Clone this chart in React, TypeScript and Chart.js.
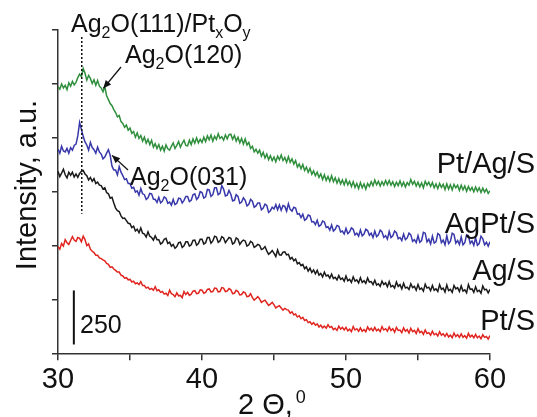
import React, { useEffect, useRef } from 'react';
import { Chart, registerables } from 'chart.js';
Chart.register(...registerables);

// 2Θ grid (degrees)
const twoTheta = [
  30, 30.125, 30.25, 30.375, 30.5, 30.625, 30.75, 30.875,
  31, 31.125, 31.25, 31.375, 31.5, 31.625, 31.75, 31.875,
  32, 32.125, 32.25, 32.375, 32.5, 32.625, 32.75, 32.875,
  33, 33.125, 33.25, 33.375, 33.5, 33.625, 33.75, 33.875,
  34, 34.125, 34.25, 34.375, 34.5, 34.625, 34.75, 34.875,
  35, 35.125, 35.25, 35.375, 35.5, 35.625, 35.75, 35.875,
  36, 36.125, 36.25, 36.375, 36.5, 36.625, 36.75, 36.875,
  37, 37.125, 37.25, 37.375, 37.5, 37.625, 37.75, 37.875,
  38, 38.125, 38.25, 38.375, 38.5, 38.625, 38.75, 38.875,
  39, 39.125, 39.25, 39.375, 39.5, 39.625, 39.75, 39.875,
  40, 40.125, 40.25, 40.375, 40.5, 40.625, 40.75, 40.875,
  41, 41.125, 41.25, 41.375, 41.5, 41.625, 41.75, 41.875,
  42, 42.125, 42.25, 42.375, 42.5, 42.625, 42.75, 42.875,
  43, 43.125, 43.25, 43.375, 43.5, 43.625, 43.75, 43.875,
  44, 44.125, 44.25, 44.375, 44.5, 44.625, 44.75, 44.875,
  45, 45.125, 45.25, 45.375, 45.5, 45.625, 45.75, 45.875,
  46, 46.125, 46.25, 46.375, 46.5, 46.625, 46.75, 46.875,
  47, 47.125, 47.25, 47.375, 47.5, 47.625, 47.75, 47.875,
  48, 48.125, 48.25, 48.375, 48.5, 48.625, 48.75, 48.875,
  49, 49.125, 49.25, 49.375, 49.5, 49.625, 49.75, 49.875,
  50, 50.125, 50.25, 50.375, 50.5, 50.625, 50.75, 50.875,
  51, 51.125, 51.25, 51.375, 51.5, 51.625, 51.75, 51.875,
  52, 52.125, 52.25, 52.375, 52.5, 52.625, 52.75, 52.875,
  53, 53.125, 53.25, 53.375, 53.5, 53.625, 53.75, 53.875,
  54, 54.125, 54.25, 54.375, 54.5, 54.625, 54.75, 54.875,
  55, 55.125, 55.25, 55.375, 55.5, 55.625, 55.75, 55.875,
  56, 56.125, 56.25, 56.375, 56.5, 56.625, 56.75, 56.875,
  57, 57.125, 57.25, 57.375, 57.5, 57.625, 57.75, 57.875,
  58, 58.125, 58.25, 58.375, 58.5, 58.625, 58.75, 58.875,
  59, 59.125, 59.25, 59.375, 59.5, 59.625, 59.75, 59.875,
  60,
];

// Pt/Ag/S (green, offset trace)
const ptAgS = [
  1238, 1226, 1250, 1232, 1244, 1224, 1256, 1240,
  1262, 1246, 1258, 1280, 1296, 1284, 1322, 1300,
  1268, 1290, 1276, 1252, 1270, 1244, 1266, 1240,
  1232, 1214, 1238, 1196, 1178, 1160, 1150, 1132,
  1118, 1098, 1104, 1076, 1068, 1050, 1060, 1036,
  1046, 1022, 1030, 1004, 1024, 998, 1012, 986,
  1004, 976, 994, 970, 990, 958, 974, 952,
  970, 944, 962, 940, 968, 950, 944, 962,
  978, 952, 966, 984, 958, 976, 990, 966,
  964, 990, 970, 996, 976, 1000, 978, 994,
  980, 1004, 984, 1010, 992, 1014, 986, 1008,
  994, 1020, 998, 1006, 990, 1014, 996, 1016,
  1018, 994, 1012, 986, 1004, 978, 998, 972,
  996, 968, 980, 952, 962, 936, 948, 930,
  944, 916, 934, 908, 926, 900, 918, 896,
  912, 890, 916, 900, 922, 896, 910, 888,
  914, 888, 904, 880, 896, 866, 880, 858,
  878, 850, 866, 842, 860, 832, 848, 826,
  842, 818, 834, 808, 830, 804, 822, 800,
  826, 798, 816, 792, 812, 788, 806, 784,
  808, 784, 800, 776, 798, 772, 790, 766,
  794, 770, 788, 764, 790, 776, 798, 780,
  806, 784, 800, 778, 798, 782, 804, 784,
  804, 782, 798, 776, 796, 780, 802, 778,
  796, 774, 794, 782, 808, 786, 800, 778,
  796, 774, 792, 770, 800, 782, 796, 776,
  794, 770, 788, 766, 790, 772, 786, 762,
  788, 764, 784, 760, 786, 770, 782, 758,
  782, 760, 778, 754, 776, 758, 772, 752,
  774, 754, 770, 748, 768, 750, 764, 744,
  756,
];

// AgPt/S (blue)
const agPtS = [
  948, 930, 962, 940, 936, 952, 930, 956,
  944, 966, 972, 1010, 1072, 1040, 1008, 982,
  968, 944, 980, 956, 946, 930, 958, 936,
  926, 904, 912, 930, 946, 920, 870, 852,
  852, 830, 868, 842, 826, 808, 812, 790,
  790, 768, 772, 750, 756, 736, 766, 742,
  738, 716, 724, 744, 742, 718, 716, 702,
  726, 700, 708, 728, 722, 698, 704, 690,
  716, 692, 698, 722, 720, 700, 712, 730,
  730, 706, 712, 738, 742, 716, 726, 752,
  748, 722, 728, 762, 760, 730, 738, 770,
  770, 738, 744, 780, 764, 732, 736, 758,
  740, 710, 712, 738, 730, 698, 704, 724,
  712, 686, 694, 716, 708, 680, 686, 700,
  700, 668, 676, 694, 688, 656, 664, 680,
  672, 692, 668, 690, 666, 688, 684, 662,
  696, 670, 662, 680, 676, 648, 650, 632,
  648, 620, 626, 644, 640, 612, 614, 600,
  620, 592, 598, 616, 612, 586, 590, 574,
  598, 570, 578, 596, 592, 566, 570, 556,
  582, 558, 566, 584, 578, 552, 560, 546,
  574, 548, 556, 578, 572, 550, 560, 540,
  570, 544, 552, 574, 566, 540, 548, 532,
  568, 540, 548, 570, 562, 534, 540, 526,
  556, 530, 538, 560, 552, 522, 530, 516,
  548, 518, 526, 564, 560, 520, 532, 510,
  546, 514, 520, 558, 552, 516, 528, 506,
  548, 512, 522, 560, 554, 514, 526, 508,
  542, 506, 516, 552, 548, 512, 524, 504,
  538, 504, 512, 546, 534, 506, 518, 500,
  520,
];

// Ag/S (black)
const agS = [
  846, 822, 838, 856, 830, 816, 842, 828,
  842, 820, 834, 818, 836, 846, 850, 834,
  826, 806, 818, 800, 812, 790, 796, 782,
  780, 764, 770, 748, 742, 722, 726, 700,
  676, 664, 660, 640, 628, 630, 618, 606,
  604, 586, 592, 570, 578, 562, 584, 560,
  556, 542, 566, 546, 540, 528, 548, 530,
  530, 510, 516, 532, 536, 512, 518, 500,
  508, 490, 498, 516, 518, 494, 502, 520,
  520, 500, 506, 526, 528, 504, 512, 532,
  532, 510, 516, 540, 540, 514, 524, 546,
  542, 518, 524, 544, 538, 516, 528, 540,
  536, 510, 516, 538, 532, 508, 520, 528,
  524, 500, 506, 522, 516, 494, 500, 508,
  504, 484, 488, 498, 478, 462, 470, 480,
  466, 452, 482, 460, 458, 472, 474, 460,
  462, 440, 448, 432, 440, 418, 424, 410,
  416, 396, 404, 384, 398, 378, 390, 372,
  388, 366, 374, 358, 380, 362, 366, 352,
  370, 350, 356, 344, 364, 346, 352, 338,
  362, 340, 346, 332, 358, 338, 344, 330,
  354, 332, 340, 328, 352, 334, 336, 322,
  342, 320, 326, 314, 338, 322, 330, 312,
  336, 312, 318, 306, 334, 314, 322, 302,
  328, 306, 310, 300, 326, 308, 314, 296,
  322, 300, 306, 292, 324, 306, 310, 294,
  318, 296, 302, 290, 322, 300, 306, 288,
  320, 294, 300, 286, 318, 302, 308, 290,
  316, 292, 298, 284, 322, 300, 302, 286,
  312, 290, 296, 282, 316, 298, 300, 284,
  300,
];

// Pt/S (red)
const ptS = [
  498, 486, 512, 500, 530, 516, 508, 526,
  544, 528, 522, 540, 536, 520, 546, 530,
  502, 510, 486, 476, 470, 458, 458, 446,
  442, 436, 432, 420, 416, 402, 404, 394,
  388, 380, 380, 366, 362, 352, 354, 344,
  346, 334, 338, 326, 330, 322, 336, 318,
  318, 306, 310, 300, 304, 296, 312, 294,
  298, 286, 290, 278, 282, 272, 296, 280,
  276, 266, 284, 270, 272, 262, 290, 276,
  286, 272, 278, 292, 294, 280, 282, 298,
  296, 282, 286, 300, 302, 288, 290, 306,
  304, 288, 290, 308, 306, 290, 292, 304,
  298, 280, 282, 296, 290, 274, 276, 288,
  284, 266, 268, 280, 262, 250, 258, 266,
  256, 240, 246, 250, 238, 226, 232, 240,
  228, 214, 220, 224, 214, 204, 212, 206,
  204, 190, 196, 182, 186, 172, 178, 164,
  170, 156, 160, 146, 150, 138, 146, 134,
  140, 126, 134, 122, 130, 120, 136, 124,
  128, 114, 120, 110, 130, 116, 124, 112,
  124, 108, 116, 104, 128, 112, 118, 106,
  122, 106, 114, 104, 126, 112, 120, 108,
  124, 108, 116, 104, 128, 112, 118, 106,
  126, 110, 118, 102, 124, 110, 112, 100,
  122, 106, 114, 98, 120, 104, 110, 96,
  118, 100, 106, 92, 112, 96, 100, 88,
  106, 90, 96, 84, 104, 88, 94, 82,
  96, 80, 88, 76, 98, 82, 90, 78,
  94, 78, 86, 74, 96, 80, 88, 76,
  92, 76, 84, 72, 90, 78, 82, 70,
  86,
];

const seriesNames = ['Pt/Ag/S', 'AgPt/S', 'Ag/S', 'Pt/S'];
const seriesColors = ['#2f8f3c', '#3838aa', '#1a1a1a', '#e0241f'];
const xTicks = [30, 35, 40, 45, 50, 55, 60];
const yTickStep = 250;
const scaleBarValue = 250;
const peakLine = 31.65;

const FONT = '"Liberation Sans", Arial, Helvetica, sans-serif';

type Part = { t: string; sub?: boolean };

function drawRich(ctx: CanvasRenderingContext2D, parts: Part[], x: number, base: number, size: number, subSize: number) {
  let cx = x;
  for (const p of parts) {
    ctx.font = `${p.sub ? subSize : size}px ${FONT}`;
    ctx.fillText(p.t, cx, p.sub ? base + 6 : base);
    cx += ctx.measureText(p.t).width;
  }
}

function arrow(ctx: CanvasRenderingContext2D, x1: number, y1: number, x2: number, y2: number) {
  ctx.beginPath();
  ctx.moveTo(x1, y1);
  ctx.lineTo(x2, y2);
  ctx.stroke();
  const a = Math.atan2(y2 - y1, x2 - x1);
  const L = 8, W = 3.5;
  ctx.beginPath();
  ctx.moveTo(x2, y2);
  ctx.lineTo(x2 - L * Math.cos(a) + W * Math.sin(a), y2 - L * Math.sin(a) - W * Math.cos(a));
  ctx.lineTo(x2 - L * Math.cos(a) - W * Math.sin(a), y2 - L * Math.sin(a) + W * Math.cos(a));
  ctx.closePath();
  ctx.fill();
}

const annotations = {
  id: 'annotations',
  afterDraw(chart: any) {
    const ctx: CanvasRenderingContext2D = chart.ctx;
    const xs = chart.scales.x;
    const ys = chart.scales.y;
    ctx.save();
    ctx.fillStyle = '#111';
    ctx.strokeStyle = '#111';
    ctx.textBaseline = 'alphabetic';

    // series labels
    ctx.textAlign = 'right';
    ctx.font = `29px ${FONT}`;
    const bases = [173, 233, 280, 330];
    seriesNames.forEach((n, i) => ctx.fillText(n, 535, bases[i]));

    // peak annotations
    ctx.textAlign = 'left';
    drawRich(ctx, [{ t: 'Ag' }, { t: '2', sub: true }, { t: 'O(111)/Pt' }, { t: 'x', sub: true }, { t: 'O' }, { t: 'y', sub: true }], 71, 32, 25, 16);
    drawRich(ctx, [{ t: 'Ag' }, { t: '2', sub: true }, { t: 'O(120)' }], 125, 63, 25, 16);
    drawRich(ctx, [{ t: 'Ag' }, { t: '2', sub: true }, { t: 'O(031)' }], 130, 185, 25, 16);

    ctx.lineWidth = 1.3;
    arrow(ctx, 121, 67, xs.getPixelForValue(33.15), ys.getPixelForValue(1230));
    arrow(ctx, 128, 170, xs.getPixelForValue(33.75), ys.getPixelForValue(920));

    // dotted peak line
    ctx.setLineDash([2, 2]);
    ctx.lineWidth = 1.5;
    const px = xs.getPixelForValue(peakLine);
    ctx.beginPath();
    ctx.moveTo(px, 37);
    ctx.lineTo(px, ys.getPixelForValue(650));
    ctx.stroke();
    ctx.setLineDash([]);

    // scale bar
    ctx.lineWidth = 2;
    const bx = xs.getPixelForValue(31.1);
    ctx.beginPath();
    ctx.moveTo(bx, ys.getPixelForValue(45));
    ctx.lineTo(bx, ys.getPixelForValue(45 + scaleBarValue));
    ctx.stroke();
    ctx.font = `25px ${FONT}`;
    ctx.fillText(String(scaleBarValue), 80, 333);

    // axis titles
    ctx.font = `29px ${FONT}`;
    ctx.textAlign = 'left';
    ctx.fillText('2 \u0398,', 238, 414);
    const w = ctx.measureText('2 \u0398,').width;
    ctx.font = `18px ${FONT}`;
    ctx.fillText('0', 238 + w + 3, 403);

    ctx.translate(36, 185);
    ctx.rotate(-Math.PI / 2);
    ctx.textAlign = 'center';
    ctx.font = `29px ${FONT}`;
    ctx.fillText('Intensity, a.u.', 0, 0);
    ctx.restore();
  },
};

export default function App() {
  const ref = useRef<HTMLCanvasElement>(null);
  useEffect(() => {
    document.body.style.margin = '0';
    const series = [ptAgS, agPtS, agS, ptS];
    const chart = new Chart(ref.current!, {
      type: 'line',
      data: {
        datasets: series.map((s, i) => ({
          label: seriesNames[i],
          data: twoTheta.map((x, j) => ({ x, y: s[j] })),
          borderColor: seriesColors[i],
          borderWidth: 1.5,
          pointRadius: 0,
          tension: 0,
          fill: false,
        })),
      },
      options: {
        animation: false,
        responsive: true,
        maintainAspectRatio: false,
        layout: { padding: { left: 52, right: 47, top: 30, bottom: 18 } },
        plugins: { legend: { display: false }, tooltip: { enabled: false } },
        scales: {
          x: {
            type: 'linear',
            min: 30,
            max: 60,
            afterBuildTicks: (s: any) => { s.ticks = xTicks.map((v) => ({ value: v })); },
            ticks: {
              autoSkip: false,
              maxRotation: 0,
              padding: 2,
              color: '#111',
              font: { family: FONT, size: 29 },
              callback: (v: any) => (Number(v) % 10 === 0 ? String(v) : ''),
            },
            grid: { display: true, drawOnChartArea: false, drawTicks: true, tickLength: 6, color: '#333', lineWidth: 1.5 },
            border: { display: true, color: '#333', width: 1.5 },
          },
          y: {
            type: 'linear',
            min: 0,
            max: 1500,
            ticks: { display: false, stepSize: yTickStep },
            grid: { display: true, drawOnChartArea: false, drawTicks: true, tickLength: 6, color: '#333', lineWidth: 1.5 },
            border: { display: true, color: '#333', width: 1.5 },
          },
        },
      },
      plugins: [annotations],
    });
    return () => chart.destroy();
  }, []);
  return (
    <div style={{ position: 'absolute', left: 0, top: 0, width: 537, height: 417 }}>
      <canvas ref={ref} />
    </div>
  );
}
